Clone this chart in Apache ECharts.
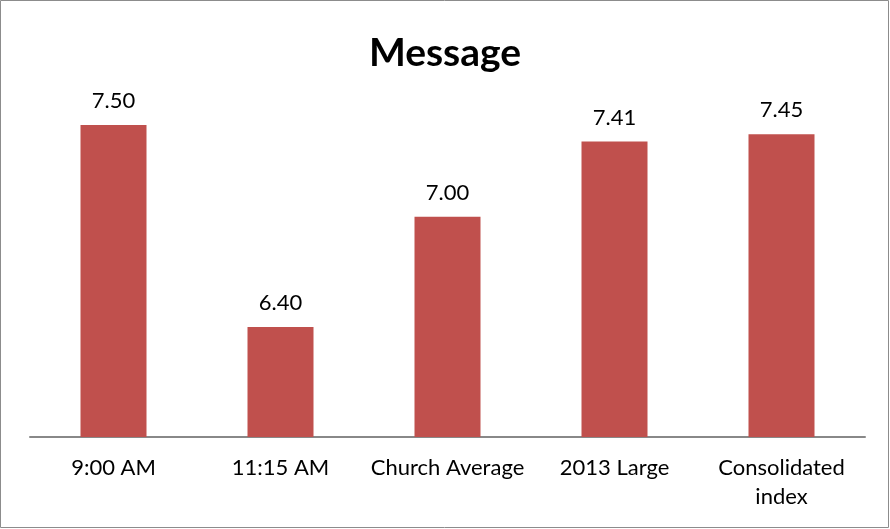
<!DOCTYPE html>
<html><head><meta charset="utf-8">
<script src="https://cdn.jsdelivr.net/npm/echarts@6/dist/echarts.min.js"></script>
<style>html,body{margin:0;padding:0;background:#fff}#c{width:890px;height:529px}</style>
</head><body><div id="c"></div>
<script>
const categories = ['9:00 AM', '11:15 AM', 'Church Average', '2013 Large', 'Consolidated\nindex'];
const values = [7.50, 6.40, 7.00, 7.41, 7.45];
const chart = echarts.init(document.getElementById('c'));
chart.setOption({
  animation: false,
  backgroundColor: '#fff',
  textStyle: { fontFamily: 'Lato, "Open Sans", sans-serif' },
  title: { text: 'Message', left: 'center', top: 29, textStyle: { fontSize: 39, fontWeight: 'bold', color: '#000', fontFamily: 'Lato, "Open Sans", sans-serif' } },
  graphic: [{ type: 'rect', shape: { x: 0.5, y: 0.5, width: 888, height: 527 }, style: { fill: 'none', stroke: '#8c8c8c', lineWidth: 1 }, silent: true }],
  grid: { left: 30, right: 25, top: 70, bottom: 92 },
  xAxis: {
    type: 'category', data: categories,
    axisLine: { lineStyle: { color: '#888', width: 2 } },
    axisTick: { show: false },
    axisLabel: { interval: 0, fontSize: 22, color: '#000', margin: 16, lineHeight: 29 }
  },
  yAxis: { type: 'value', min: 5.8, max: 7.8, show: false, splitLine: { show: false } },
  series: [{
    type: 'bar', data: values, barWidth: 66,
    itemStyle: { color: '#C0504D' },
    label: { show: true, position: 'top', distance: 13, fontSize: 22, color: '#000', formatter: p => p.value.toFixed(2) }
  }]
});
</script></body></html>
